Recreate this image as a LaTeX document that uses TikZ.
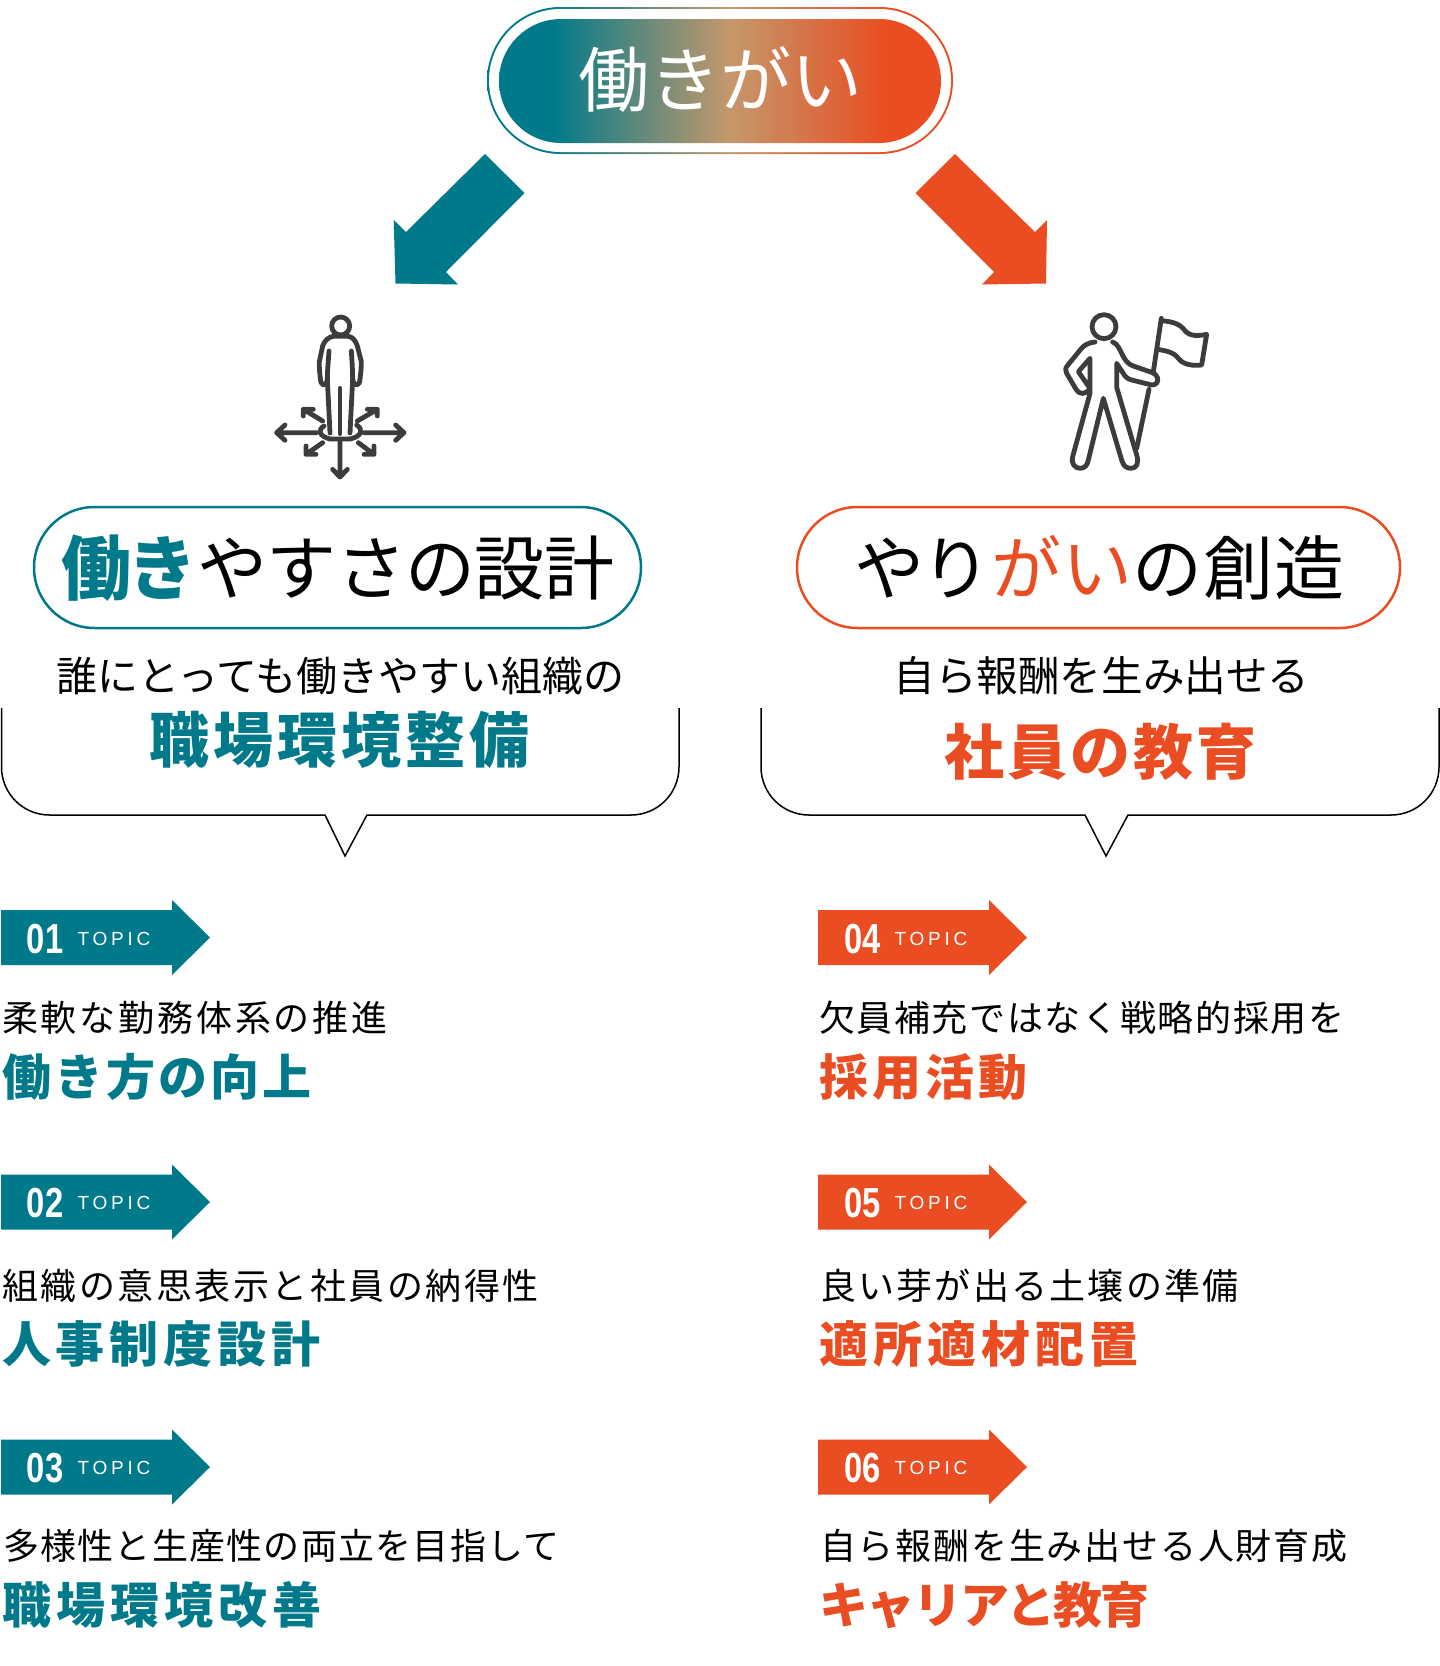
\documentclass[tikz,border=0pt]{standalone}
\usepackage{fontspec}
\usetikzlibrary{shapes.misc}
\newfontfamily\jp{Noto Sans CJK JP}
\newfontfamily\numf[FakeStretch=0.78]{Liberation Sans}
\newfontfamily\latn{Liberation Sans}
\definecolor{wteal}{RGB}{0,122,138}
\definecolor{worange}{RGB}{233,77,33}
\definecolor{wtan}{RGB}{196,152,108}
\definecolor{wicon}{RGB}{60,60,60}
\pgfdeclarehorizontalshading{wgrad}{100bp}{color(0bp)=(wteal); color(31bp)=(wteal); color(51bp)=(wtan); color(69bp)=(worange); color(100bp)=(worange)}
\tikzset{
  txt/.style={inner sep=0pt,outer sep=0pt},
  title/.style={txt,anchor=base,text=white,font=\jp\fontsize{71}{80}\selectfont},
  head/.style={txt,anchor=base,font=\jp\fontsize{70}{80}\selectfont},
  lead/.style={txt,anchor=base,font=\jp\fontsize{41}{48}\selectfont},
  big/.style={txt,anchor=base,font=\jp\bfseries\fontsize{60}{66}\selectfont\addfontfeature{LetterSpace=#1}},
  sub/.style={txt,anchor=base west,font=\jp\fontsize{36}{40}\selectfont\addfontfeature{LetterSpace=#1}},
  bold/.style={txt,anchor=base west,font=\jp\bfseries\fontsize{49}{54}\selectfont\addfontfeature{LetterSpace=#1}},
  pillbox/.style={rounded rectangle,inner sep=0pt,minimum height=121pt,line width=2.5pt,fill=white},
  bubble/.style={line width=1.5pt,draw=black,line join=miter},
  iconline/.style={draw=wicon,line width=4.8pt,line cap=round,line join=round},
  num/.style={txt,anchor=base west,text=white,font=\numf\bfseries\fontsize{42}{48}\selectfont},
  topic/.style={txt,anchor=base west,text=white,font=\latn\fontsize{19}{22}\selectfont\addfontfeature{LetterSpace=20}},
}
\begin{document}
\begin{tikzpicture}[x=1pt,y=-1pt]
\useasboundingbox (0,0) rectangle (1440,1666);
% top pill
\node[rounded rectangle,inner sep=0pt,minimum width=466pt,minimum height=147pt,shading=wgrad] (topouter) at (720,80.5) {};
\node[rounded rectangle,inner sep=0pt,minimum width=462pt,minimum height=143pt,fill=white] (topgap) at (720,80.5) {};
\node[rounded rectangle,inner sep=0pt,minimum width=442pt,minimum height=124pt,shading=wgrad] (topinner) at (720,81) {};
\node[title] (toptext) at (720,106) {働きがい};
% big arrows
\fill[wteal] (485,154) -- (524.5,193) -- (446,272) -- (458,284.5) -- (395.5,283.5) -- (393.7,220) -- (406,232) -- cycle;
\fill[worange] (955,154) -- (915.5,193) -- (994,272) -- (982,284.5) -- (1046,283.5) -- (1047,220) -- (1035,232) -- cycle;
% icon left
\begin{scope}[shift={(250,301)},scale=1/3]
\draw[iconline] (272,75) circle (27);
\draw[iconline] (237,150) .. controls (235,180) and (232,210) .. (232,235) .. controls (230,248) and (224,254) .. (220,252) .. controls (212,250) and (212,240) .. (211,232) .. controls (209,215) and (207,195) .. (208,182) -- (218,135) .. controls (224,118) and (236,108) .. (250,106) -- (295,106) .. controls (308,108) and (316,118) .. (322,135) -- (334,182) .. controls (334,200) and (332,218) .. (330,235) .. controls (329,245) and (326,252) .. (320,252) .. controls (314,252) and (309,245) .. (308,235) .. controls (308,210) and (306,180) .. (304,150);
\draw[iconline] (232,235) -- (240,396);
\draw[iconline] (270,262) -- (270,398);
\draw[iconline] (308,235) -- (300,396);
\draw[iconline] (222,375) .. controls (204,385) and (204,405) .. (240,414) -- (300,414) .. controls (338,405) and (340,385) .. (320,372);
\draw[iconline] (200,395) -- (80,395) (105,372) -- (80,395) -- (105,418);
\draw[iconline] (342,395) -- (462,395) (437,372) -- (462,395) -- (437,418);
\draw[iconline] (270,416) -- (270,528) (248,505) -- (270,528) -- (292,505);
\draw[iconline] (218,360) -- (160,325) (160,345) -- (160,325) -- (190,325);
\draw[iconline] (322,360) -- (382,325) (352,325) -- (382,325) -- (382,345);
\draw[iconline] (218,425) -- (168,460) (168,435) -- (168,460) -- (198,460);
\draw[iconline] (325,425) -- (372,460) (372,435) -- (372,460) -- (342,460);
\end{scope}
% icon right
\begin{scope}[shift={(1040,300)},scale=1/3]
\draw[iconline] (192,80) circle (36);
\draw[iconline] (165,126) .. controls (145,128) and (132,135) .. (122,148) -- (82,197) .. controls (75,205) and (76,212) .. (80,220) -- (108,268) .. controls (118,285) and (138,285) .. (150,265) -- (115,215) -- (150,175) -- (150,280) -- (98,470) .. controls (92,490) and (105,505) .. (120,505) .. controls (135,505) and (142,495) .. (145,480) -- (190,295) -- (245,480) .. controls (250,500) and (262,505) .. (272,505) .. controls (290,505) and (298,490) .. (290,465) -- (230,262) -- (230,190) -- (255,228) .. controls (260,235) and (268,238) .. (275,240) -- (335,255) .. controls (350,255) and (356,245) .. (352,232) .. controls (350,224) and (342,220) .. (335,217) -- (280,198) .. controls (268,194) and (258,185) .. (250,170) .. controls (240,150) and (232,130) .. (218,126);
\draw[iconline] (364,55) -- (340,215);
\draw[iconline] (327,268) -- (290,445);
\draw[iconline] (364,62) .. controls (400,65) and (420,72) .. (435,92) .. controls (450,110) and (475,108) .. (500,103) -- (485,195) .. controls (460,198) and (430,195) .. (415,175) .. controls (400,155) and (375,152) .. (352,148);
\end{scope}
% pills
\node[pillbox,draw=wteal,minimum width=607pt] (pillL) at (337.5,567.5) {};
\node[pillbox,draw=worange,minimum width=603pt] (pillR) at (1098.5,567.5) {};
\node[head] (headL) at (338,594.5) {\textcolor{wteal}{\bfseries\addfontfeature{LetterSpace=-6}働き}{\addfontfeature{LetterSpace=-1}やすさの設計}};
\node[head] (headR) at (1099.5,594.5) {{\addfontfeature{LetterSpace=-4.5}やり}\textcolor{worange}{\addfontfeature{LetterSpace=2.3}がい}{\addfontfeature{LetterSpace=1.5}の創造}};
\node[lead] (leadL) at (340.5,691) {誰にとっても働きやすい組織の};
\node[lead,font=\jp\fontsize{41.6}{48}\selectfont] (leadR) at (1101.5,691) {自ら報酬を生み出せる};
% bubbles
\draw[bubble] (1.5,708) -- (1.5,767) arc[start angle=180,end angle=90,radius=48] -- (325,815) -- (345,856) -- (367,815) -- (631,815) arc[start angle=90,end angle=0,radius=48] -- (679,708);
\draw[bubble] (761,708) -- (761,767) arc[start angle=180,end angle=90,radius=48] -- (1085,815) -- (1106,856) -- (1128,815) -- (1391,815) arc[start angle=90,end angle=0,radius=48] -- (1439,708);
\node[big=7,text=wteal] (bigL) at (339.5,762.5) {職場環境整備};
\node[big=5,text=worange] (bigR) at (1100,774.5) {社員の教育};
% topic arrows
\foreach \n/\ax/\ay/\c in {01/0/937.5/wteal,02/0/1202/wteal,03/0/1467/wteal,04/817/937.5/worange,05/817/1202/worange,06/817/1467/worange}{
  \begin{scope}[shift={(\ax,\ay)}]
    \fill[\c] (1,-27.5) -- (172,-27.5) -- (172,-37.5) -- (210,0) -- (172,37.5) -- (172,27.5) -- (1,27.5) -- cycle;
    \node[num] (num\n) at (27,15.5) {\n};
    \node[topic] (topic\n) at (77.5,7.5) {TOPIC};
  \end{scope}
}
% topic texts
\node[sub=7.9] (s1) at (2,1031.5) {柔軟な勤務体系の推進};
\node[bold=6.5,text=wteal] (b1) at (2,1095) {働き方の向上};
\node[sub=6.95] (s2) at (2,1299.5) {組織の意思表示と社員の納得性};
\node[bold=9.9,text=wteal] (b2) at (2,1362) {人事制度設計};
\node[sub=3.5] (s3) at (3,1559.5) {多様性と生産性の両立を目指して};
\node[bold=10.4,text=wteal] (b3) at (2,1623) {職場環境改善};
\node[sub=4.6] (s4) at (819,1031.5) {欠員補充ではなく戦略的採用を};
\node[bold=8.8,text=worange] (b4) at (819,1095) {採用活動};
\node[sub=6.3] (s5) at (820,1299.5) {良い芽が出る土壌の準備};
\node[bold=10.4,text=worange] (b5) at (819,1362) {適所適材配置};
\node[sub=5.05] (s6) at (820,1559.5) {自ら報酬を生み出せる人財育成};
\node[bold=-4,text=worange] (b6) at (819,1623) {キャリアと教育};
\end{tikzpicture}
\end{document}
